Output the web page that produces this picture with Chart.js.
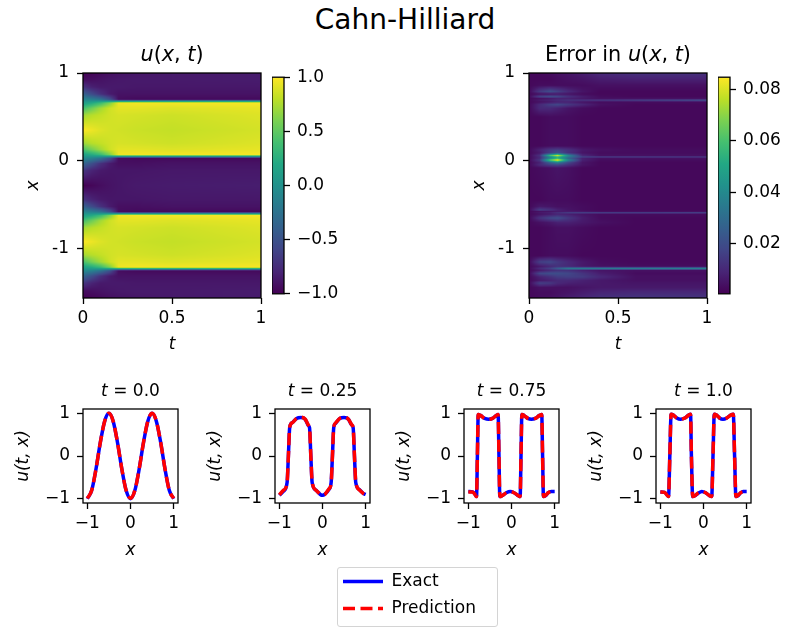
<!DOCTYPE html>
<html>
<head>
<meta charset="utf-8">
<script src="https://cdn.jsdelivr.net/npm/chart.js@4.4.1/dist/chart.umd.min.js"></script>
<style>
html, body { margin: 0; padding: 0; background: #fff; width: 786px; height: 629px; overflow: hidden; }
.box { position: absolute; }
#suptitle { position: absolute; left: 305px; top: 6px; width: 200px; text-align: center; font: 28px/28px "DejaVu Sans", sans-serif; color: #000; }
#legendFrame { position: absolute; left: 337px; top: 567px; width: 159px; height: 58px; border: 1px solid #d4d4d4; border-radius: 3px; }
</style>
</head>
<body>
<div id="suptitle">Cahn-Hilliard</div>
<div id="legendFrame"></div>
<script>
// ---- u(x,t) heatmap (rows = x as labelled on the axis, cols = t)
const uTimes = [0, 0.05, 0.1, 0.15, 0.2, 0.3, 0.5, 1.0];
const uRows = [1.00, 0.92, 0.84, 0.76, 0.70, 0.66, 0.60, 0.52, 0.35, 0.20, 0.13, 0.07, 0.03, -0.03, -0.11, -0.28,
               -0.44, -0.52, -0.58, -0.62, -0.68, -0.76, -0.92, -1.07, -1.15, -1.21, -1.25, -1.31, -1.39, -1.48, -1.56];
const uValues = [
  [-1.00, -0.98, -0.95, -0.92, -0.90, -0.88, -0.86, -0.85],
  [-0.92, -0.92, -0.90, -0.88, -0.87, -0.86, -0.86, -0.85],
  [-0.71, -0.82, -0.86, -0.86, -0.86, -0.87, -0.87, -0.87],
  [-0.38, -0.55, -0.72, -0.85, -0.90, -0.90, -0.90, -0.90],
  [-0.09, -0.15, -0.25, -0.50, -0.93, -0.95, -0.95, -0.95],
  [0.10, 0.20, 0.35, 0.60, 0.95, 0.97, 0.97, 0.98],
  [0.39, 0.55, 0.72, 0.85, 0.92, 0.92, 0.90, 0.93],
  [0.71, 0.78, 0.82, 0.86, 0.88, 0.87, 0.85, 0.90],
  [1.00, 0.95, 0.90, 0.87, 0.86, 0.84, 0.82, 0.87],
  [0.70, 0.78, 0.82, 0.86, 0.88, 0.87, 0.85, 0.90],
  [0.43, 0.58, 0.72, 0.85, 0.92, 0.92, 0.90, 0.93],
  [0.14, 0.22, 0.35, 0.60, 0.95, 0.97, 0.97, 0.98],
  [-0.05, -0.12, -0.25, -0.50, -0.93, -0.95, -0.95, -0.95],
  [-0.34, -0.52, -0.72, -0.85, -0.92, -0.92, -0.90, -0.90],
  [-0.68, -0.80, -0.86, -0.88, -0.88, -0.88, -0.87, -0.87],
  [-1.00, -0.97, -0.93, -0.90, -0.88, -0.86, -0.85, -0.84],
  [-0.70, -0.80, -0.86, -0.88, -0.88, -0.88, -0.87, -0.87],
  [-0.37, -0.55, -0.72, -0.85, -0.92, -0.92, -0.90, -0.90],
  [-0.09, -0.15, -0.25, -0.50, -0.93, -0.95, -0.95, -0.95],
  [0.11, 0.20, 0.35, 0.60, 0.95, 0.97, 0.97, 0.98],
  [0.39, 0.55, 0.72, 0.85, 0.92, 0.92, 0.90, 0.93],
  [0.71, 0.78, 0.82, 0.86, 0.88, 0.87, 0.85, 0.90],
  [1.00, 0.95, 0.90, 0.87, 0.86, 0.84, 0.82, 0.87],
  [0.73, 0.78, 0.82, 0.86, 0.88, 0.87, 0.85, 0.90],
  [0.41, 0.58, 0.72, 0.85, 0.92, 0.92, 0.90, 0.93],
  [0.14, 0.22, 0.35, 0.60, 0.95, 0.97, 0.97, 0.98],
  [-0.06, -0.12, -0.25, -0.50, -0.93, -0.95, -0.95, -0.95],
  [-0.35, -0.52, -0.72, -0.85, -0.90, -0.90, -0.90, -0.90],
  [-0.68, -0.80, -0.86, -0.86, -0.86, -0.87, -0.87, -0.87],
  [-0.93, -0.92, -0.90, -0.88, -0.87, -0.86, -0.86, -0.85],
  [-1.00, -0.98, -0.95, -0.92, -0.90, -0.88, -0.86, -0.85]
];
const uRange = [-1, 1];

// ---- error heatmap
const errTimes = [0, 0.06, 0.12, 0.16, 0.22, 0.3, 0.4, 0.6, 1.0];
const errRows = [1.00, 0.93, 0.86, 0.79, 0.76, 0.73, 0.71, 0.69, 0.67, 0.64, 0.60, 0.50,
                 0.17, 0.125, 0.09, 0.06, 0.045, 0.03, 0.01, -0.02, -0.045, -0.08,
                 -0.45, -0.52, -0.56, -0.575, -0.59, -0.605, -0.65, -0.70, -0.76,
                 -1.08, -1.15, -1.20, -1.225, -1.245, -1.28, -1.32, -1.36, -1.39, -1.44, -1.50, -1.56];
const errValues = [
  [.002, .002, .003, .004, .005, .007, .010, .012, .012],
  [.002, .002, .002, .003, .004, .005, .007, .008, .008],
  [.002, .003, .003, .003, .003, .003, .004, .004, .004],
  [.002, .014, .020, .016, .010, .005, .002, .002, .002],
  [.002, .004, .005, .006, .005, .003, .002, .002, .002],
  [.002, .016, .020, .018, .012, .007, .003, .002, .002],
  [.002, .004, .006, .008, .008, .006, .004, .004, .004],
  [.002, .006, .008, .010, .012, .012, .013, .015, .020],
  [.002, .004, .006, .008, .008, .005, .003, .003, .003],
  [.002, .010, .016, .018, .014, .009, .004, .002, .002],
  [.002, .010, .010, .008, .005, .003, .002, .002, .002],
  [.002, .002, .003, .003, .003, .002, .002, .002, .002],
  [.002, .002, .003, .003, .003, .002, .002, .002, .002],
  [.002, .008, .014, .016, .012, .006, .004, .003, .003],
  [.002, .006, .016, .022, .012, .005, .003, .003, .003],
  [.002, .012, .060, .080, .040, .010, .004, .004, .004],
  [.002, .010, .040, .055, .035, .017, .015, .015, .014],
  [.002, .010, .040, .055, .028, .008, .004, .004, .004],
  [.002, .014, .065, .085, .040, .008, .003, .003, .003],
  [.002, .008, .026, .035, .018, .005, .002, .002, .002],
  [.002, .010, .016, .018, .012, .005, .002, .002, .002],
  [.002, .003, .004, .005, .004, .002, .002, .002, .002],
  [.002, .002, .003, .003, .003, .002, .002, .002, .002],
  [.002, .006, .005, .004, .004, .003, .002, .002, .002],
  [.002, .016, .012, .008, .005, .003, .002, .002, .002],
  [.002, .004, .005, .006, .006, .005, .003, .003, .003],
  [.002, .006, .008, .012, .016, .017, .017, .017, .018],
  [.002, .004, .006, .008, .007, .005, .003, .003, .003],
  [.002, .012, .018, .020, .014, .007, .003, .002, .002],
  [.002, .004, .006, .008, .008, .006, .004, .002, .002],
  [.002, .002, .003, .004, .004, .003, .002, .002, .002],
  [.002, .002, .003, .003, .003, .002, .002, .002, .002],
  [.002, .016, .018, .014, .010, .006, .003, .002, .002],
  [.002, .006, .010, .012, .010, .006, .004, .003, .003],
  [.002, .010, .016, .024, .034, .035, .035, .036, .037],
  [.002, .006, .010, .012, .012, .008, .005, .004, .004],
  [.002, .018, .020, .020, .018, .013, .007, .003, .003],
  [.002, .008, .012, .015, .016, .015, .010, .004, .004],
  [.002, .006, .008, .010, .010, .008, .006, .004, .004],
  [.002, .016, .014, .010, .008, .007, .006, .005, .005],
  [.002, .004, .004, .004, .004, .005, .006, .006, .006],
  [.002, .003, .003, .004, .005, .007, .009, .010, .010],
  [.002, .003, .004, .005, .007, .009, .012, .013, .013]
];
const errRange = [0.0003, 0.0849];

// ---- titles: [text, style] pieces, letters of the formulas in italics
const uTitle = [['u', 'italic'], ['(', 'normal'], ['x', 'italic'], [', ', 'normal'], ['t', 'italic'], [')', 'normal']];
const errTitle = [['Error in ', 'normal']].concat(uTitle);
const snapTitles = [
  [['t', 'italic'], [' = 0.0', 'normal']],
  [['t', 'italic'], [' = 0.25', 'normal']],
  [['t', 'italic'], [' = 0.75', 'normal']],
  [['t', 'italic'], [' = 1.0', 'normal']]
];

// ---- profiles u(t, x) at four times
const x0 = [-1, -0.9, -0.8, -0.7, -0.6, -0.5, -0.4, -0.3, -0.2, -0.1, 0,
            0.1, 0.2, 0.3, 0.4, 0.5, 0.6, 0.7, 0.8, 0.9, 1];
const exact0 = [-1, -0.81, -0.31, 0.31, 0.81, 1, 0.81, 0.31, -0.31, -0.81, -1,
                -0.81, -0.31, 0.31, 0.81, 1, 0.81, 0.31, -0.31, -0.81, -1];
const pred0 = [-0.99, -0.81, -0.31, 0.31, 0.81, 1, 0.81, 0.31, -0.31, -0.81, -0.99,
               -0.81, -0.31, 0.31, 0.81, 1, 0.81, 0.31, -0.31, -0.81, -0.99];

const x1 = [-1, -0.9, -0.82, -0.79, -0.76, -0.7, -0.6, -0.5, -0.4, -0.32, -0.3, -0.27, -0.24, -0.15, -0.05, 0,
            0.05, 0.15, 0.2, 0.23, 0.26, 0.3, 0.4, 0.5, 0.6, 0.68, 0.71, 0.74, 0.77, 0.85, 0.95, 1];
const exact1 = [-0.92, -0.82, -0.62, 0.0, 0.66, 0.78, 0.88, 0.9, 0.86, 0.7, 0.66, 0.0, -0.62, -0.8, -0.9, -0.92,
                -0.9, -0.78, -0.62, 0.0, 0.66, 0.76, 0.88, 0.9, 0.86, 0.72, 0.66, 0.0, -0.62, -0.78, -0.88, -0.9];
const pred1 = [-0.91, -0.8, -0.63, 0.0, 0.67, 0.78, 0.88, 0.91, 0.86, 0.71, 0.66, 0.0, -0.6, -0.8, -0.89, -0.91,
               -0.9, -0.77, -0.64, 0.0, 0.67, 0.77, 0.88, 0.91, 0.86, 0.73, 0.66, 0.0, -0.6, -0.79, -0.88, -0.91];

const x2 = [-1, -0.9, -0.84, -0.81, -0.79, -0.77, -0.72, -0.62, -0.53, -0.44, -0.35, -0.31, -0.29, -0.27, -0.22, -0.12, -0.03,
            0.06, 0.16, 0.2, 0.22, 0.24, 0.29, 0.38, 0.46, 0.55, 0.65, 0.7, 0.72, 0.74, 0.79, 0.85, 0.92, 1];
const exact2 = [-0.83, -0.84, -0.9, -0.95, 0.0, 0.97, 0.95, 0.88, 0.86, 0.88, 0.95, 0.97, 0.0, -0.95, -0.93, -0.86, -0.83,
                -0.86, -0.93, -0.95, 0.0, 0.97, 0.95, 0.88, 0.86, 0.88, 0.95, 0.97, 0.0, -0.95, -0.93, -0.86, -0.83, -0.83];
const pred2 = [-0.84, -0.84, -0.91, -0.95, 0.0, 0.97, 0.95, 0.88, 0.86, 0.88, 0.95, 0.97, 0.0, -0.95, -0.93, -0.86, -0.84,
               -0.86, -0.93, -0.95, 0.0, 0.97, 0.95, 0.88, 0.86, 0.88, 0.95, 0.97, 0.0, -0.95, -0.92, -0.86, -0.83, -0.84];

const x3 = [-1, -0.9, -0.85, -0.81, -0.78, -0.75, -0.7, -0.62, -0.53, -0.43, -0.34, -0.3, -0.28, -0.25, -0.2, -0.12, -0.04,
            0.05, 0.14, 0.19, 0.22, 0.25, 0.3, 0.37, 0.45, 0.54, 0.63, 0.69, 0.72, 0.75, 0.8, 0.86, 0.92, 1];
const exact3 = [-0.84, -0.85, -0.9, -0.95, 0.0, 0.98, 0.96, 0.89, 0.86, 0.89, 0.96, 0.98, 0.0, -0.95, -0.93, -0.87, -0.83,
                -0.86, -0.93, -0.95, 0.0, 0.98, 0.96, 0.89, 0.86, 0.89, 0.96, 0.98, 0.0, -0.95, -0.93, -0.86, -0.83, -0.83];
const pred3 = [-0.84, -0.85, -0.91, -0.95, 0.0, 0.98, 0.96, 0.89, 0.86, 0.89, 0.96, 0.98, 0.0, -0.95, -0.93, -0.86, -0.83,
               -0.86, -0.93, -0.95, 0.0, 0.98, 0.96, 0.89, 0.86, 0.89, 0.96, 0.98, 0.0, -0.95, -0.92, -0.86, -0.84, -0.84];

const legendLabels = ['Exact', 'Prediction'];

// ---- look
const FONT = '"DejaVu Sans", sans-serif';
Chart.defaults.font.family = FONT;
Chart.defaults.font.size = 17;
Chart.defaults.color = '#000';
Chart.defaults.animation = false;

const viridis = ['#440154', '#482475', '#414487', '#355f8d', '#2a788e', '#21918c',
                 '#22a884', '#44bf70', '#7ad151', '#bddf26', '#fde725']
  .map(h => [1, 3, 5].map(k => parseInt(h.slice(k, k + 2), 16)));

function cmap(f) {
  f = Math.min(1, Math.max(0, f)) * (viridis.length - 1);
  const i = Math.min(Math.floor(f), viridis.length - 2);
  const g = f - i;
  return viridis[i].map((c, k) => c + (viridis[i + 1][k] - c) * g);
}

function box(left, top, width, height) {
  const div = document.createElement('div');
  div.className = 'box';
  div.style.left = left + 'px';
  div.style.top = top + 'px';
  div.style.width = width + 'px';
  div.style.height = height + 'px';
  const c = document.createElement('canvas');
  div.appendChild(c);
  document.body.appendChild(div);
  return c;
}

// where v falls in a sorted (up or down) list: index + fraction
function locate(arr, v) {
  const n = arr.length;
  const asc = arr[n - 1] > arr[0];
  if (asc ? v <= arr[0] : v >= arr[0]) return [0, 0];
  if (asc ? v >= arr[n - 1] : v <= arr[n - 1]) return [n - 2, 1];
  let k = 0;
  while (k < n - 2 && (asc ? v > arr[k + 1] : v < arr[k + 1])) k++;
  return [k, (v - arr[k]) / (arr[k + 1] - arr[k])];
}

const framePlugin = {
  id: 'frame',
  afterDraw(chart) {
    const a = chart.chartArea, ctx = chart.ctx;
    ctx.save();
    ctx.strokeStyle = '#000';
    ctx.lineWidth = 1.3;
    ctx.strokeRect(a.left, a.top, a.right - a.left, a.bottom - a.top);
    ctx.restore();
  }
};

// title made of pieces in different styles, centred over the plot area
function pieceTitle(pieces, size, gap) {
  return {
    id: 'pieceTitle',
    afterDraw(chart) {
      const {ctx, chartArea: a} = chart;
      ctx.save();
      ctx.fillStyle = '#000';
      ctx.textBaseline = 'alphabetic';
      const fonts = pieces.map(p => (p[1] === 'italic' ? 'italic ' : '') + size + 'px ' + FONT);
      const widths = pieces.map((p, i) => { ctx.font = fonts[i]; return ctx.measureText(p[0]).width; });
      let x = (a.left + a.right) / 2 - widths.reduce((s, w) => s + w, 0) / 2;
      pieces.forEach((p, i) => {
        ctx.font = fonts[i];
        ctx.fillText(p[0], x, a.top - gap);
        x += widths[i];
      });
      ctx.restore();
    }
  };
}

// paints the grid into the plot area, sampled through the chart's scales
function heatLayer(rows, times, values, range) {
  return {
    id: 'heat',
    beforeDatasetsDraw(chart) {
      const {ctx, chartArea: a, scales} = chart;
      const left = Math.round(a.left), top = Math.round(a.top);
      const w = Math.round(a.right) - left, h = Math.round(a.bottom) - top;
      const img = ctx.createImageData(w, h);
      for (let j = 0; j < h; j++) {
        const [r, fr] = locate(rows, scales.y.getValueForPixel(top + j + 0.5));
        for (let i = 0; i < w; i++) {
          const [c, fc] = locate(times, scales.x.getValueForPixel(left + i + 0.5));
          const v = (1 - fr) * ((1 - fc) * values[r][c] + fc * values[r][c + 1]) +
                    fr * ((1 - fc) * values[r + 1][c] + fc * values[r + 1][c + 1]);
          const col = cmap((v - range[0]) / (range[1] - range[0]));
          const k = 4 * (j * w + i);
          img.data[k] = col[0]; img.data[k + 1] = col[1]; img.data[k + 2] = col[2]; img.data[k + 3] = 255;
        }
      }
      ctx.putImageData(img, left, top);
    }
  };
}

const tickGrid = { drawOnChartArea: false, drawTicks: true, tickLength: 6, tickWidth: 1.3, tickColor: '#000' };
const minus = v => (v < 0 ? '\u2212' + Math.abs(v) : String(v));

function heatmap(left, title, rows, times, values, range) {
  new Chart(box(left - 62, 43, 254, 313), {
    type: 'scatter',
    data: { datasets: [] },
    options: {
      maintainAspectRatio: false,
      layout: { padding: { left: 0, right: 14, top: 30, bottom: 0 } },
      plugins: { legend: { display: false }, tooltip: { enabled: false } },
      scales: {
        x: {
          type: 'linear', min: 0, max: 1,
          ticks: { stepSize: 0.5, padding: 4, maxRotation: 0, includeBounds: false, callback: v => String(v) },
          grid: tickGrid, border: { display: false },
          title: { display: true, text: 't', font: { style: 'italic' }, padding: { top: 0, bottom: 1 } },
          afterFit: s => { s.height = 58; }
        },
        y: {
          type: 'linear', min: -1.56, max: 1,
          ticks: { stepSize: 1, padding: 8, includeBounds: false, callback: v => String(v) },
          grid: tickGrid, border: { display: false },
          title: { display: true, text: 'x', font: { style: 'italic' }, padding: { top: 2, bottom: 0 } },
          afterFit: s => { s.width = 62; }
        }
      }
    },
    plugins: [heatLayer(rows, times, values, range), framePlugin, pieceTitle(title, 20.8, 12.3)]
  });
}

function colorbar(left, range, step, digits) {
  new Chart(box(left, 60, 72, 251), {
    type: 'bar',
    data: {
      labels: [''],
      datasets: [{
        data: [range],
        borderWidth: 0,
        barPercentage: 1,
        categoryPercentage: 1,
        backgroundColor: ctx => {
          const a = ctx.chart.chartArea;
          if (!a) return '#440154';
          const g = ctx.chart.ctx.createLinearGradient(0, a.bottom, 0, a.top);
          viridis.forEach((c, i) => g.addColorStop(i / (viridis.length - 1), 'rgb(' + c.join(',') + ')'));
          return g;
        }
      }]
    },
    options: {
      maintainAspectRatio: false,
      layout: { padding: { left: 0, right: 0, top: 13, bottom: 13 } },
      plugins: { legend: { display: false }, tooltip: { enabled: false } },
      scales: {
        x: { display: false },
        y: {
          position: 'right', min: range[0], max: range[1],
          ticks: { stepSize: step, padding: 7, includeBounds: false,
                   callback: v => (v < 0 ? '\u2212' : '') + Math.abs(v).toFixed(digits) },
          grid: tickGrid, border: { display: false },
          afterFit: s => { s.width = 60; }
        }
      }
    },
    plugins: [framePlugin]
  });
}

function profile(left, title, xs, exact, pred) {
  new Chart(box(left - 72, 379, 179, 182), {
    type: 'line',
    data: {
      datasets: [
        { label: legendLabels[0], data: xs.map((x, i) => ({ x: x, y: exact[i] })), borderColor: '#0000ff',
          borderWidth: 3.5, pointRadius: 0, cubicInterpolationMode: 'monotone', order: 1 },
        { label: legendLabels[1], data: xs.map((x, i) => ({ x: x, y: pred[i] })), borderColor: '#ff0000',
          borderWidth: 3.5, borderDash: [12, 5.5], pointRadius: 0, cubicInterpolationMode: 'monotone', order: 0 }
      ]
    },
    options: {
      maintainAspectRatio: false,
      layout: { padding: { left: 0, right: 12, top: 30, bottom: 0 } },
      plugins: { legend: { display: false }, tooltip: { enabled: false } },
      scales: {
        x: {
          type: 'linear', min: -1.1, max: 1.1,
          ticks: { stepSize: 1, padding: 4, maxRotation: 0, includeBounds: false, callback: minus },
          grid: tickGrid, border: { display: false },
          title: { display: true, text: 'x', font: { style: 'italic' }, padding: { top: 0, bottom: 0 } },
          afterFit: s => { s.height = 58; }
        },
        y: {
          type: 'linear', min: -1.1, max: 1.1,
          ticks: { stepSize: 1, padding: 7, includeBounds: false, callback: minus },
          grid: tickGrid, border: { display: false },
          title: { display: true, text: 'u(t, x)', font: { style: 'italic' }, padding: { top: 2.8, bottom: 0 } },
          afterFit: s => { s.width = 72; }
        }
      }
    },
    plugins: [framePlugin, pieceTitle(title, 17, 13.3)]
  });
}

heatmap(83, uTitle, uRows, uTimes, uValues, uRange);
colorbar(272, uRange, 0.5, 1);
heatmap(529, errTitle, errRows, errTimes, errValues, errRange);
colorbar(718, errRange, 0.02, 2);

profile(83, snapTitles[0], x0, exact0, pred0);
profile(275, snapTitles[1], x1, exact1, pred1);
profile(464, snapTitles[2], x2, exact2, pred2);
profile(656, snapTitles[3], x3, exact3, pred3);

// shared legend under the profiles (canvas taller than the box: a top legend may use half the height)
new Chart(box(333, 563, 170, 140), {
  type: 'line',
  data: {
    datasets: [
      { label: legendLabels[0], data: [], borderColor: '#0000ff', borderWidth: 3.5 },
      { label: legendLabels[1], data: [], borderColor: '#ff0000', borderWidth: 3.5, borderDash: [12, 5.5] }
    ]
  },
  options: {
    maintainAspectRatio: false,
    scales: { x: { display: false }, y: { display: false } },
    plugins: {
      tooltip: { enabled: false },
      legend: {
        position: 'top', align: 'start',
        labels: {
          usePointStyle: true, pointStyleWidth: 40, padding: 10, font: { size: 17 },
          generateLabels: chart => chart.data.datasets.map((d, i) => ({
            text: d.label, strokeStyle: d.borderColor, fillStyle: d.borderColor, lineWidth: d.borderWidth,
            lineDash: d.borderDash || [], pointStyle: 'line', hidden: false, datasetIndex: i
          }))
        }
      }
    }
  }
});
</script>
</body>
</html>
